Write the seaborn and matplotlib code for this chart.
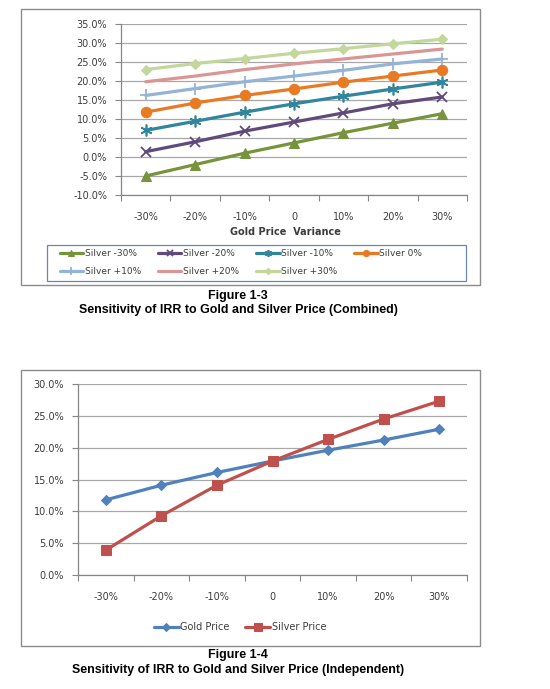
import numpy as np
import pandas as pd
import matplotlib
matplotlib.use("Agg")
import matplotlib.pyplot as plt
from matplotlib.patches import Rectangle
from matplotlib.ticker import FixedLocator, FuncFormatter, NullFormatter
import seaborn as sns

# ---------------- data ----------------
variance_labels = ["-30%", "-20%", "-10%", "0", "10%", "20%", "30%"]

silver_m30 = [-5.0, -2.0, 1.0, 3.7, 6.4, 8.9, 11.4]
silver_m20 = [1.4, 4.0, 6.8, 9.2, 11.6, 14.0, 15.8]
silver_m10 = [7.0, 9.4, 11.8, 14.0, 16.0, 17.9, 19.7]
silver_0 = [11.8, 14.2, 16.2, 17.9, 19.7, 21.3, 22.9]
silver_p10 = [16.2, 18.0, 19.8, 21.3, 22.8, 24.5, 25.8]
silver_p20 = [19.8, 21.3, 23.0, 24.5, 25.8, 27.1, 28.4]
silver_p30 = [23.0, 24.6, 25.9, 27.3, 28.5, 29.8, 31.0]

combined_names = ["Silver -30%", "Silver -20%", "Silver -10%", "Silver 0%",
                  "Silver +10%", "Silver +20%", "Silver +30%"]
combined_values = [silver_m30, silver_m20, silver_m10, silver_0,
                   silver_p10, silver_p20, silver_p30]

gold_price = [11.8, 14.1, 16.1, 17.9, 19.6, 21.2, 22.9]
silver_price = [3.9, 9.3, 14.1, 17.9, 21.3, 24.5, 27.3]
independent_names = ["Gold Price", "Silver Price"]

# ---------------- style ----------------
sns.set_theme(style="white")
plt.rcParams["font.family"] = ["DejaVu Sans"]

W, H = 550, 689
fig = plt.figure(figsize=(5.5, 6.89), dpi=100)
fig.patch.set_facecolor("white")


def fx(px):
    return px / W


def fy(py):
    return 1 - py / H


GRID = "#a8a8a8"
AXC = "#868686"
TXT = "#3c3c3c"

combined_styles = [
    dict(color="#77933C", marker="^", ms=7.5),
    dict(color="#604A7B", marker="x", ms=7.5, mew=1.3),
    dict(color="#31859C", marker=(6, 2, 0), ms=8.5, mew=1.2),
    dict(color="#E97A24", marker="o", ms=7.5),
    dict(color="#95B3D7", marker="+", ms=8.5, mew=1.3),
    dict(color="#D99694", marker=None),
    dict(color="#C3D69B", marker="D", ms=5.5),
]


def style_axes(ax, ylo, yhi, n):
    ax.set_xlim(-0.5, n - 0.5)
    ax.set_ylim(ylo, yhi)
    yt = np.arange(ylo, yhi + 0.01, 5.0)
    ax.yaxis.set_major_locator(FixedLocator(yt))
    ax.yaxis.set_major_formatter(FuncFormatter(lambda v, p: f"{v:.1f}%"))
    ax.xaxis.set_major_locator(FixedLocator(np.arange(-0.5, n, 1.0)))
    ax.xaxis.set_major_formatter(NullFormatter())
    ax.xaxis.set_minor_locator(FixedLocator(np.arange(n)))
    ax.set_xticks(np.arange(n), labels=variance_labels, minor=True)
    ax.tick_params(axis="x", which="major", length=4, width=0.8, color=AXC,
                   direction="out", bottom=True)
    ax.tick_params(axis="x", which="minor", length=0, pad=12.5,
                   labelsize=7, labelcolor=TXT)
    ax.tick_params(axis="y", which="major", length=4, width=0.8, color=AXC,
                   direction="out", left=True, pad=6, labelsize=7,
                   labelcolor=TXT)
    for s in ["top", "right"]:
        ax.spines[s].set_visible(False)
    for s in ["left", "bottom"]:
        ax.spines[s].set_color(AXC)
        ax.spines[s].set_linewidth(0.9)
    ax.grid(axis="y", color=GRID, lw=0.9)
    ax.grid(axis="x", visible=False)
    ax.set_axisbelow(True)
    ax.set_xlabel("")
    ax.set_ylabel("")


# ---------------- chart 1 ----------------
fig.add_artist(Rectangle((fx(21), fy(285)), fx(480) - fx(21), fy(9) - fy(285),
                         transform=fig.transFigure, fill=False,
                         edgecolor="#8c8c8c", lw=1.0))
ax1 = fig.add_axes([fx(121), fy(195), fx(467) - fx(121), fy(24) - fy(195)])
xs = np.arange(len(variance_labels))
for name, vals, st in zip(combined_names, combined_values, combined_styles):
    st = dict(st)
    col = st.pop("color")
    mk = st.pop("marker")
    kw = dict(marker=mk, mec=col, mfc=col) if mk is not None else {}
    kw.update(st)
    sns.lineplot(x=xs, y=vals, ax=ax1, color=col, lw=2.3, label=name,
                 legend=False, **kw)
style_axes(ax1, -10, 35, len(variance_labels))
if ax1.get_legend():
    ax1.get_legend().remove()

fig.text(fx(285), fy(232), "Gold Price  Variance", ha="center", va="center",
         fontsize=7, fontweight="bold", color=TXT)

# legend box
fig.add_artist(Rectangle((fx(47), fy(281)), fx(466) - fx(47), fy(245) - fy(281),
                         transform=fig.transFigure, fill=False,
                         edgecolor="#6d87aa", lw=0.9))
handles, labels = ax1.get_legend_handles_labels()
order = [0, 4, 1, 5, 2, 6, 3]
leg = fig.legend([handles[i] for i in order], [labels[i] for i in order],
                 loc="upper left", ncol=4,
                 bbox_to_anchor=(fx(57), fy(246)),
                 fontsize=6.5, frameon=False, markerscale=0.6,
                 handlelength=2.6, handletextpad=0.15, borderpad=0.3,
                 labelspacing=1.0, columnspacing=1.9, borderaxespad=0)
for t in leg.get_texts():
    t.set_color(TXT)

cap_font = ["Liberation Sans"]
fig.text(fx(238), fy(296), "Figure 1-3", ha="center", va="center",
         fontsize=9, fontweight="bold", family=cap_font, color="black")
fig.text(fx(238), fy(310), "Sensitivity of IRR to Gold and Silver Price (Combined)",
         ha="center", va="center", fontsize=8.9, fontweight="bold",
         family=cap_font, color="black")

# ---------------- chart 2 ----------------
fig.add_artist(Rectangle((fx(21), fy(646)), fx(480) - fx(21), fy(370) - fy(646),
                         transform=fig.transFigure, fill=False,
                         edgecolor="#8c8c8c", lw=1.0))
ax2 = fig.add_axes([fx(78), fy(575), fx(467) - fx(78), fy(384) - fy(575)])
sns.lineplot(x=xs, y=gold_price, ax=ax2, color="#4F81BD", lw=2.3, marker="D",
             ms=5.5, mec="#4F81BD", mfc="#4F81BD", label=independent_names[0],
             legend=False)
sns.lineplot(x=xs, y=silver_price, ax=ax2, color="#C0504D", lw=2.3, marker="s",
             ms=7.2, mec="#C0504D", mfc="#C0504D", label=independent_names[1],
             legend=False)
style_axes(ax2, 0, 30, len(variance_labels))
if ax2.get_legend():
    ax2.get_legend().remove()

h2, l2 = ax2.get_legend_handles_labels()
leg2 = fig.legend(h2, l2, loc="center", ncol=2, bbox_to_anchor=(fx(240), fy(627)),
                  fontsize=7, frameon=False, markerscale=0.8, handlelength=2.6,
                  handletextpad=0.15, columnspacing=1.6)
for t in leg2.get_texts():
    t.set_color(TXT)

fig.text(fx(238), fy(655), "Figure 1-4", ha="center", va="center",
         fontsize=9, fontweight="bold", family=cap_font, color="black")
fig.text(fx(238), fy(670), "Sensitivity of IRR to Gold and Silver Price (Independent)",
         ha="center", va="center", fontsize=8.9, fontweight="bold",
         family=cap_font, color="black")

fig.savefig("out.png", dpi=100, facecolor="white")
